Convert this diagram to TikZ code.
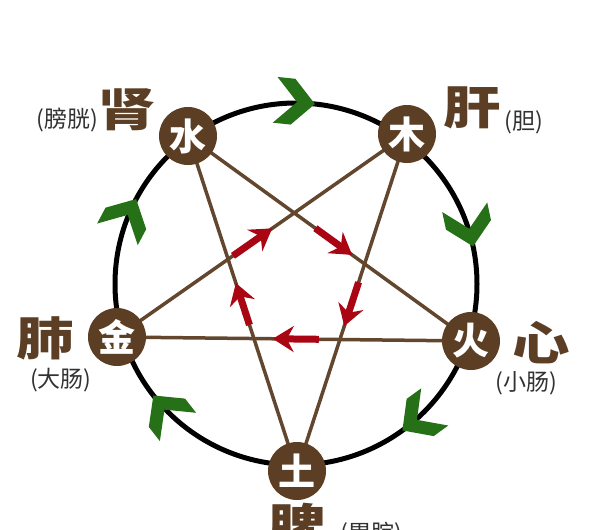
\documentclass[tikz,border=0pt]{standalone}
\usepackage{graphicx}
\usepackage{fontspec}
\newfontfamily\cjk{Noto Sans CJK SC}
\usetikzlibrary{arrows.meta,calc}
\definecolor{nbrown}{RGB}{92,62,36}
\definecolor{lbrown}{RGB}{98,70,45}
\definecolor{chgreen}{RGB}{38,112,24}
\definecolor{arred}{RGB}{170,5,18}
\definecolor{ptext}{RGB}{50,50,50}
\begin{document}
\begin{tikzpicture}[x=1pt,y=-1pt,
 elem/.style={circle, fill=nbrown, minimum size=58pt, inner sep=0pt, text=white, font=\cjk\bfseries\fontsize{37}{37}\selectfont},
 organ/.style={text=nbrown, inner sep=0pt, font=\cjk\bfseries\fontsize{46}{46}\selectfont},
 fu/.style={text=ptext, inner sep=0pt, font=\cjk\fontsize{23}{23}\selectfont},
 starline/.style={draw=lbrown, line width=3.5pt},
 redarr/.style={draw=arred, line width=7pt, -{Stealth[length=21pt,width=26pt,inset=7pt]}},
 chev/.style={fill=chgreen}]
\clip (0,0) rectangle (600,530);
\fill[white] (0,0) rectangle (600,530);
\node[circle, draw=black, line width=5pt, minimum size=362pt, inner sep=0pt, outer sep=0pt] (ring) at (296,284) {};
\coordinate (shuiC) at (188,136);
\coordinate (muC) at (407,134);
\coordinate (huoC) at (471,341);
\coordinate (tuC) at (297,471);
\coordinate (jinC) at (117,337);
\draw[starline] (shuiC) -- (huoC);
\draw[starline] (huoC) -- (jinC);
\draw[starline] (jinC) -- (muC);
\draw[starline] (muC) -- (tuC);
\draw[starline] (tuC) -- (shuiC);
\node[elem] (shui) at (shuiC) {水};
\node[elem] (mu) at (muC) {木};
\node[elem] (huo) at (huoC) {火};
\node[elem] (tu) at (tuC) {土};
\node[elem] (jin) at (jinC) {金};
\draw[redarr] ($(jin)!0.40!(mu)$) -- ($(jin)!0.535!(mu)$);
\draw[redarr] ($(shui)!0.45!(huo)$) -- ($(shui)!0.58!(huo)$);
\draw[redarr] ($(mu)!0.44!(tu)$) -- ($(mu)!0.57!(tu)$);
\draw[redarr] ($(huo)!0.43!(jin)$) -- ($(huo)!0.56!(jin)$);
\draw[redarr] ($(tu)!0.436!(shui)$) -- ($(tu)!0.561!(shui)$);
\foreach \a in {84,12,-54,218,152}
  \fill[chev, shift={(ring.\a)}, rotate=\a-90] (0,0) -- (-22,23) -- (-40,23) -- (-18,0) -- (-40,-23) -- (-22,-23) -- cycle;
\node[organ] (shen) at (127,110) {\scalebox{1.25}[1]{肾}};
\node[fu] (pangguang) at (67,120) {(膀胱)};
\node[organ] (gan) at (472,108) {\scalebox{1.25}[1]{肝}};
\node[fu] (dan) at (524,122) {(胆)};
\node[organ] (fei) at (45,338) {\scalebox{1.25}[1]{肺}};
\node[fu] (dachang) at (61,380) {(大肠)};
\node[organ] (xin) at (541,343) {\scalebox{1.25}[1]{心}};
\node[fu] (xiaochang) at (526,383) {(小肠)};
\node[organ] (pi) at (297,525) {\scalebox{1.25}[1]{脾}};
\node[fu] (weiwan) at (371,534) {(胃脘)};
\end{tikzpicture}
\end{document}
